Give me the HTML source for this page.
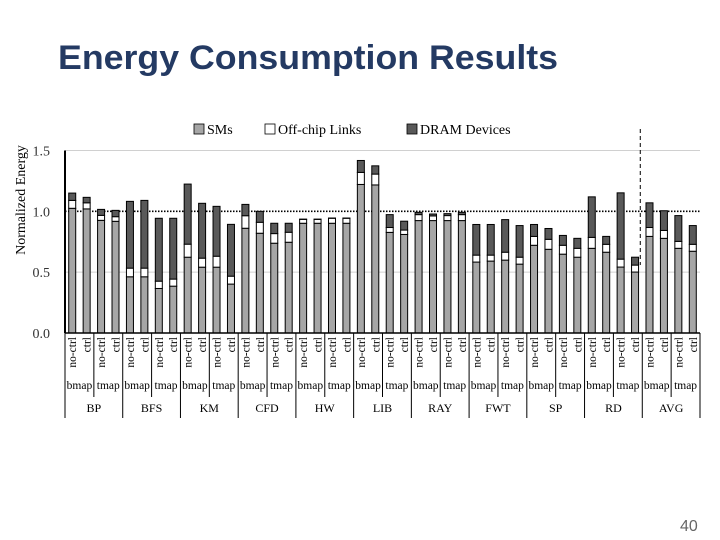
<!DOCTYPE html>
<html><head><meta charset="utf-8"><style>
html,body{margin:0;padding:0;background:#fff;}
svg{display:block;}
</style></head><body>
<svg id="chart" width="720" height="540" viewBox="0 0 720 540" xmlns="http://www.w3.org/2000/svg">
<text x="58" y="69" font-family="Liberation Sans, sans-serif" font-weight="bold" font-size="34" fill="#243a63" textLength="500" lengthAdjust="spacingAndGlyphs">Energy Consumption Results</text>
<g font-family="Liberation Serif, serif" font-size="14" fill="#000">
 <rect x="194" y="124" width="10" height="10" fill="#a6a6a6" stroke="#000" stroke-width="0.8"/>
 <text x="207" y="134">SMs</text>
 <rect x="265" y="124" width="10" height="10" fill="#fff" stroke="#000" stroke-width="0.8"/>
 <text x="278" y="134">Off-chip Links</text>
 <rect x="407" y="124" width="10" height="10" fill="#595959" stroke="#000" stroke-width="0.8"/>
 <text x="420" y="134">DRAM Devices</text>
</g>
<text transform="translate(25,200) rotate(-90)" text-anchor="middle" font-family="Liberation Serif, serif" font-size="14">Normalized Energy</text>
<g id="plot"></g>
<text x="680" y="531" font-family="Liberation Sans, sans-serif" font-size="16" fill="#666">40</text>
</svg>
<script>
const groups = ["BP","BFS","KM","CFD","HW","LIB","RAY","FWT","SP","RD","AVG"];
const maps = ["bmap","tmap"];
const ctrls = ["no-ctrl","ctrl"];
const yTicks = [0,0.5,1.0,1.5];
const yTickLabels = ["0.0","0.5","1.0","1.5"];
const smsVals = [1.025,1.02,0.926,0.918, 0.462,0.462,0.366,0.385, 0.623,0.541,0.541,0.402, 0.861,0.82,0.738,0.746, 0.902,0.902,0.902,0.902, 1.221,1.217,0.827,0.81, 0.924,0.924,0.924,0.924, 0.583,0.591,0.599,0.566, 0.721,0.688,0.648,0.623, 0.696,0.664,0.542,0.501, 0.794,0.778,0.696,0.672];
const linkVals = [0.065,0.05,0.041,0.038, 0.071,0.071,0.06,0.058, 0.107,0.074,0.09,0.065, 0.103,0.09,0.079,0.082, 0.032,0.032,0.041,0.041, 0.099,0.089,0.04,0.036, 0.049,0.038,0.041,0.049, 0.057,0.049,0.065,0.057, 0.073,0.082,0.073,0.073, 0.09,0.065,0.065,0.057, 0.073,0.065,0.057,0.057];
const dramVals = [0.06,0.045,0.049,0.052, 0.549,0.557,0.517,0.5, 0.494,0.451,0.41,0.426, 0.093,0.09,0.085,0.074, 0.002,0.002,0.002,0.002, 0.098,0.068,0.106,0.073, 0.019,0.016,0.016,0.019, 0.252,0.252,0.268,0.26, 0.098,0.089,0.081,0.082, 0.333,0.065,0.545,0.065, 0.203,0.162,0.212,0.154];

const NS="http://www.w3.org/2000/svg";
const plot=document.getElementById('plot');
const X0=65, X1=700, Y0=333, Ytop=150.5, YMAX=1.5;
const nBars=groups.length*4;
const slot=(X1-X0)/nBars;
const y=v=>Y0-(v/YMAX)*(Y0-Ytop);
const xc=i=>X0+slot*(i+0.5);
function mk(tag,attrs,parent){const e=document.createElementNS(NS,tag);for(const k in attrs)e.setAttribute(k,attrs[k]);(parent||plot).appendChild(e);return e;}

// gridlines and tick labels
yTicks.forEach((t,i)=>{
  if(t>0){
    const g=mk('line',{x1:X0,x2:X1,y1:y(t),y2:y(t),stroke:t===1?'#000':'#d0d0d0','stroke-width':t===1?1.6:1,'stroke-dasharray':t===1?'1.5,1.5':'none'});
    
    
  }
  const tl=mk('text',{x:50,y:y(t)+5,'text-anchor':'end','font-family':'Liberation Serif, serif','font-size':14,fill:'#333'});
  tl.textContent=yTickLabels[i];
  
  
});

// bars
for(let i=0;i<nBars;i++){
  const segs=[[smsVals[i],'#a6a6a6','sms'],[linkVals[i],'#ffffff','links'],[dramVals[i],'#595959','dram']];
  let base=0;
  const bw=7;
  segs.forEach(s=>{
    const r=mk('rect',{x:xc(i)-bw/2,y:y(base+s[0]),width:bw,height:Math.max(0,y(base)-y(base+s[0])),fill:s[1],stroke:'#000','stroke-width':1});
    
    
    base+=s[0];
  });
}
// axes
const ax=mk('line',{x1:X0,x2:X0,y1:Ytop,y2:Y0,stroke:'#000','stroke-width':2});


const bx=mk('line',{x1:X0,x2:X1,y1:Y0,y2:Y0,stroke:'#000','stroke-width':1.5});



// category labels
for(let i=0;i<nBars;i++){
  const t=mk('text',{transform:`translate(${xc(i)+4},337) rotate(-90)`,'text-anchor':'end','font-family':'Liberation Serif, serif','font-size':11.5});
  t.textContent=ctrls[i%2];
  
  
}
for(let p=0;p<groups.length*2;p++){
  const cx=X0+slot*(p*2+1);
  const t=mk('text',{x:cx,y:389,'text-anchor':'middle','font-family':'Liberation Serif, serif','font-size':11.5});
  t.textContent=maps[p%2];
  
  
}
for(let p=0;p<=groups.length*2;p++){
  const xx=X0+slot*2*p;
  const big=p%2===0;
  const l=mk('line',{x1:xx,x2:xx,y1:Y0,y2:big?418:397,stroke:'#000','stroke-width':1});
  
  
}
groups.forEach((g,k)=>{
  const t=mk('text',{x:X0+slot*(k*4+2),y:412,'text-anchor':'middle','font-family':'Liberation Serif, serif','font-size':12});
  t.textContent=g;
  
  
});
// dashed separator before AVG
const dx=X0+slot*40-2;
const d=mk('line',{x1:dx,x2:dx,y1:129,y2:265,stroke:'#000','stroke-width':1,'stroke-dasharray':'4,3'});


</script>
</body></html>
